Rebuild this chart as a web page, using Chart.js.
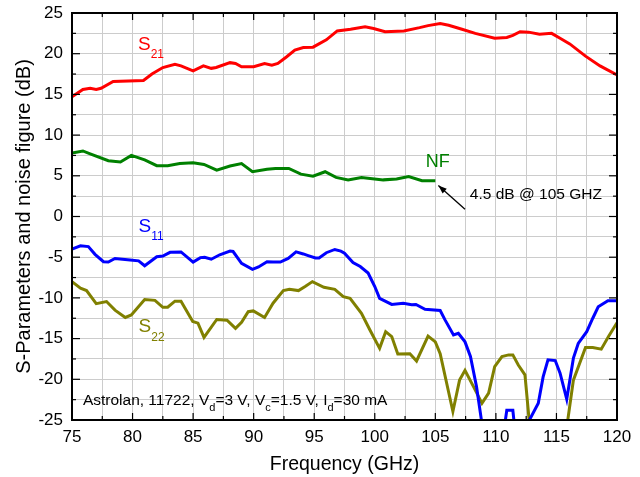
<!DOCTYPE html>
<html lang="en">
<head>
<meta charset="UTF-8">
<title>S-Parameters and noise figure</title>
<script src="https://cdn.jsdelivr.net/npm/chart.js"></script>
<style>
  body { margin: 0; background: #fff; }
  #wrap { width: 640px; height: 477px; }
</style>
</head>
<body>
<div id="wrap"><canvas id="spChart" width="640" height="477"></canvas></div>

<script>
// values (frequency in GHz, level in dB)
const freqS21 = [75, 75.9, 76.5, 77.0, 77.4, 78.4, 80.9, 81.6, 82.5, 83.5, 84.0, 85.0, 85.85, 86.5, 86.9, 88.05, 88.5, 89.0, 90.0, 90.9, 91.5, 92.0, 92.7, 93.4, 94.1, 94.9, 96.0, 96.9, 98.0, 99.2, 99.9, 100.85, 102.4, 103.7, 104.4, 105.4, 106.1, 107.2, 108.3, 109.9, 110.9, 111.4, 112.0, 112.7, 113.6, 114.6, 115.3, 116.1, 117.4, 118.6, 120];
const s21 = [14.7, 15.6, 15.75, 15.6, 15.75, 16.6, 16.7, 17.5, 18.3, 18.7, 18.5, 17.9, 18.5, 18.2, 18.3, 18.9, 18.8, 18.4, 18.4, 18.8, 18.6, 18.8, 19.6, 20.45, 20.75, 20.8, 21.7, 22.8, 23.0, 23.3, 23.1, 22.7, 22.8, 23.2, 23.45, 23.7, 23.5, 23.0, 22.5, 21.9, 22.0, 22.25, 22.7, 22.65, 22.4, 22.5, 21.9, 21.2, 19.7, 18.5, 17.4];

const freqNF = [75, 75.9, 76.5, 78.0, 79.0, 79.9, 81.0, 82.0, 82.9, 83.9, 85.0, 85.9, 86.95, 88.05, 89.0, 89.9, 91.1, 91.8, 92.9, 93.9, 94.9, 95.9, 96.8, 97.8, 98.9, 100.7, 101.8, 102.8, 103.9, 105.0];
const nf = [7.8, 8.05, 7.7, 6.85, 6.7, 7.5, 6.95, 6.25, 6.25, 6.5, 6.6, 6.4, 5.7, 6.2, 6.5, 5.5, 5.8, 5.9, 5.9, 5.2, 4.95, 5.5, 4.8, 4.5, 4.8, 4.5, 4.6, 4.9, 4.4, 4.4];

const freqS11 = [75, 75.7, 76.35, 76.9, 77.6, 78.0, 78.55, 79.8, 80.5, 81.0, 82.0, 82.5, 83.1, 84.0, 85.0, 85.6, 85.95, 86.5, 87.2, 88.05, 88.3, 89.0, 89.9, 90.4, 91.1, 91.6, 92.2, 92.85, 93.5, 94.1, 94.5, 95.1, 95.4, 96.0, 96.7, 97.2, 97.5, 98.2, 98.8, 99.45, 100.0, 100.4, 101.4, 102.35, 103.05, 103.4, 104.15, 105.4, 105.8, 106.5, 106.9, 107.45, 107.9, 108.4, 109.1, 110.5, 110.9, 111.4, 111.7, 112.2, 112.7, 113.5, 113.9, 114.3, 114.9, 115.3, 115.85, 116.4, 116.8, 117.5, 118.0, 118.45, 119.25, 120];
const s11 = [-4.0, -3.6, -3.7, -4.65, -5.55, -5.6, -5.15, -5.35, -5.45, -6.05, -4.95, -4.85, -4.4, -4.35, -5.6, -5.05, -5.0, -5.25, -4.7, -4.25, -4.3, -5.75, -6.5, -6.2, -5.55, -5.6, -5.6, -5.15, -4.35, -4.6, -4.8, -5.1, -5.1, -4.45, -4.05, -4.25, -4.5, -5.65, -6.15, -6.95, -8.6, -10.05, -10.8, -10.65, -10.85, -10.8, -11.4, -11.55, -12.7, -14.55, -14.35, -15.4, -17.2, -20.9, -28, -28, -23.8, -23.8, -28, -28, -25.2, -22.95, -19.7, -17.6, -17.7, -19.25, -22.45, -17.4, -15.6, -14.15, -12.5, -11.1, -10.35, -10.35];

const freqS22 = [75, 75.7, 76.2, 77.0, 77.85, 78.55, 79.4, 79.9, 81.0, 81.85, 82.5, 82.9, 83.5, 84.0, 84.97, 85.4, 85.9, 86.95, 87.8, 88.5, 89.0, 89.55, 89.97, 90.9, 91.6, 92.45, 92.95, 93.7, 94.25, 94.85, 95.8, 96.7, 97.4, 97.96, 98.9, 99.6, 100.4, 100.9, 101.4, 101.9, 102.9, 103.45, 104.4, 105.0, 105.4, 106.45, 107.0, 107.45, 108.15, 108.85, 109.4, 109.9, 110.5, 111.05, 111.4, 111.85, 112.4, 112.9, 115.7, 116.4, 117.4, 118.0, 118.7, 119.3, 120];
const s22 = [-8.0, -8.8, -9.1, -10.7, -10.45, -11.5, -12.4, -12.1, -10.2, -10.3, -11.15, -11.15, -10.4, -10.4, -12.9, -13.1, -14.85, -12.65, -12.75, -13.75, -13.0, -11.7, -11.6, -12.4, -10.65, -9.1, -8.95, -9.1, -8.6, -8.0, -8.7, -8.95, -9.85, -10.05, -11.9, -13.95, -16.2, -14.15, -14.75, -16.9, -16.85, -17.75, -14.7, -15.4, -16.85, -23.95, -20.1, -18.9, -20.9, -22.95, -21.7, -18.45, -17.2, -17.0, -17.0, -18.25, -19.45, -27.5, -27.5, -20.1, -16.1, -16.1, -16.3, -14.75, -13.05];

const FONT = "'Liberation Sans', Arial, sans-serif";

function pts(xs, ys) {
    return xs.map((x, i) => ({x: x, y: ys[i]}));
}

function line(ctx, x1, y1, x2, y2) {
    ctx.beginPath();
    ctx.moveTo(x1, y1);
    ctx.lineTo(x2, y2);
    ctx.stroke();
}

// draws text made of normal and subscript parts, starting at x
function subText(ctx, x, y, parts, size, subSize, subDrop, color) {
    ctx.fillStyle = color;
    ctx.textAlign = 'left';
    ctx.textBaseline = 'middle';
    parts.forEach(([txt, sub]) => {
        ctx.font = (sub ? subSize : size) + 'px ' + FONT;
        ctx.fillText(txt, x, sub ? y + subDrop : y);
        x += ctx.measureText(txt).width;
    });
}

// frame, inner tick marks and the text notes
const decorations = {
    id: 'decorations',
    afterDatasetsDraw(chart) {
        const {ctx, chartArea: a, scales: {x, y}} = chart;
        ctx.save();
        ctx.strokeStyle = '#000';
        ctx.lineWidth = 1.2;
        x.ticks.forEach(t => {
            const px = x.getPixelForValue(t.value);
            const len = t.value % 5 === 0 ? 7 : 4;
            line(ctx, px, a.bottom, px, a.bottom - len);
            line(ctx, px, a.top, px, a.top + len);
        });
        y.ticks.forEach(t => {
            const py = y.getPixelForValue(t.value);
            const len = t.value % 5 === 0 ? 8 : 4;
            line(ctx, a.left, py, a.left + len, py);
            line(ctx, a.right, py, a.right - len, py);
        });
        ctx.lineWidth = 2;
        ctx.strokeRect(a.left, a.top, a.right - a.left, a.bottom - a.top);

        const X = v => x.getPixelForValue(v);
        const Y = v => y.getPixelForValue(v);

        subText(ctx, X(80.45), Y(21.1), [['S', false], ['21', true]], 19, 12, 10, '#ff0000');
        subText(ctx, X(80.5), Y(-1.3), [['S', false], ['11', true]], 19, 12, 10, '#0000ff');
        subText(ctx, X(80.5), Y(-13.6), [['S', false], ['22', true]], 19, 12, 10, '#808000');
        subText(ctx, X(104.2), Y(6.7), [['NF', false]], 18, 12, 0, '#008000');
        subText(ctx, X(107.85), Y(2.65), [['4.5 dB @ 105 GHZ', false]], 15.5, 12, 0, '#000');
        subText(ctx, X(75.9), Y(-22.6), [
            ['Astrolan, 11722, V', false], ['d', true], ['=3 V, V', false], ['c', true],
            ['=1.5 V, I', false], ['d', true], ['=30 mA', false]
        ], 15.5, 11, 8, '#000');

        // arrow pointing at the NF end point
        const tx = X(105.25), ty = Y(3.8), sx = X(107.45), sy = Y(0.9);
        ctx.strokeStyle = '#000';
        ctx.lineWidth = 1.3;
        line(ctx, sx, sy, tx, ty);
        const ang = Math.atan2(ty - sy, tx - sx);
        ctx.fillStyle = '#000';
        ctx.beginPath();
        ctx.moveTo(tx, ty);
        ctx.lineTo(tx - 9 * Math.cos(ang - 0.35), ty - 9 * Math.sin(ang - 0.35));
        ctx.lineTo(tx - 9 * Math.cos(ang + 0.35), ty - 9 * Math.sin(ang + 0.35));
        ctx.closePath();
        ctx.fill();
        ctx.restore();
    }
};

const every5 = v => (Math.abs(v % 5) < 1e-9 ? v : '');

const ctx = document.getElementById('spChart').getContext('2d');
new Chart(ctx, {
    type: 'line',
    data: {
        datasets: [
            {label: 'S21', data: pts(freqS21, s21), borderColor: '#ff0000'},
            {label: 'NF', data: pts(freqNF, nf), borderColor: '#008000'},
            {label: 'S11', data: pts(freqS11, s11), borderColor: '#0000ff'},
            {label: 'S22', data: pts(freqS22, s22), borderColor: '#808000'}
        ]
    },
    options: {
        responsive: false,
        animation: false,
        datasets: {
            line: {borderWidth: 3, pointRadius: 0, tension: 0, fill: false}
        },
        layout: {padding: {top: 13, right: 23, left: 0, bottom: 0}},
        scales: {
            x: {
                type: 'linear',
                min: 75,
                max: 120,
                afterFit: s => { s.height = 57; s.paddingLeft = 0; s.paddingRight = 0; },
                grid: {color: '#cccccc', lineWidth: 1, drawTicks: false},
                border: {display: false},
                ticks: {
                    stepSize: 2.5,
                    autoSkip: false,
                    maxRotation: 0,
                    padding: 7,
                    color: '#000',
                    font: {family: FONT, size: 17},
                    callback: every5
                },
                title: {
                    display: true,
                    text: 'Frequency (GHz)',
                    color: '#000',
                    font: {family: FONT, size: 19.5},
                    padding: {bottom: 1, top: 0}
                }
            },
            y: {
                type: 'linear',
                min: -25,
                max: 25,
                afterFit: s => { s.width = 72; s.paddingTop = 0; s.paddingBottom = 0; },
                grid: {color: '#cccccc', lineWidth: 1, drawTicks: false},
                border: {display: false},
                ticks: {
                    stepSize: 2.5,
                    autoSkip: false,
                    padding: 9,
                    color: '#000',
                    font: {family: FONT, size: 17},
                    callback: every5
                },
                title: {
                    display: true,
                    text: 'S-Parameters and noise figure (dB)',
                    color: '#000',
                    font: {family: FONT, size: 20},
                    padding: {top: 12, bottom: 0}
                }
            }
        },
        plugins: {
            legend: {display: false},
            tooltip: {enabled: false}
        }
    },
    plugins: [decorations]
});
</script>
</body>
</html>
